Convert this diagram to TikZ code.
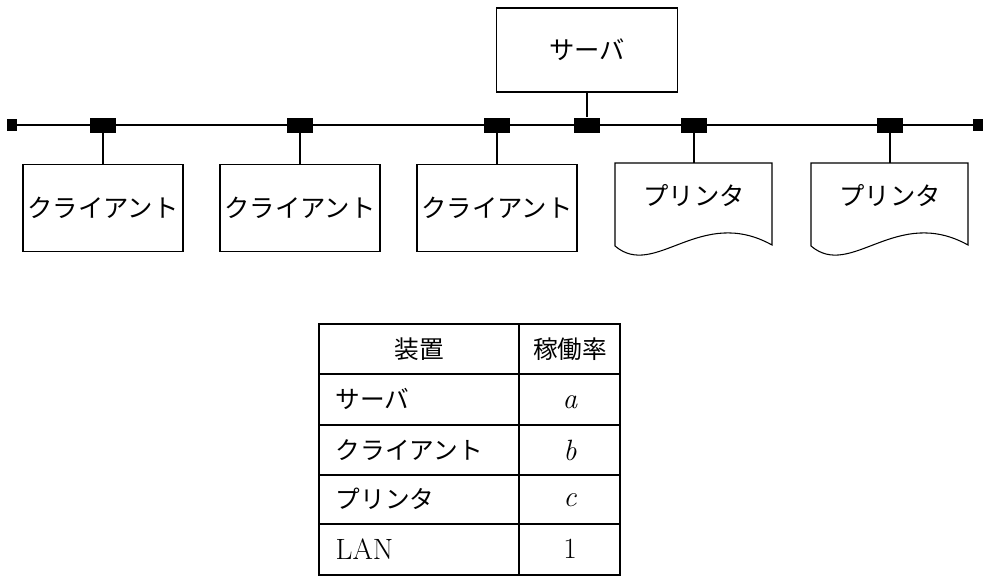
\documentclass[tikz,border=0pt]{standalone}
\usepackage{fontspec}
\newfontfamily\cjk{Noto Sans CJK JP}
\begin{document}
\begin{tikzpicture}[x=0.75pt,y=-0.75pt,
  box/.style={draw,line width=0.8pt,minimum width=160*0.75pt,minimum height=87*0.75pt,inner sep=0pt,font=\cjk\fontsize{19}{19}\selectfont},
  tap/.style={fill=black,minimum width=26*0.75pt,minimum height=15*0.75pt,inner sep=0pt},
  term/.style={fill=black,minimum width=10*0.75pt,minimum height=12*0.75pt,inner sep=0pt},
  ln/.style={line width=0.8pt},
  tt/.style={font=\cjk\fontsize{18.5}{18.5}\selectfont},
  lt/.style={font=\fontsize{22}{22}\selectfont}]
\useasboundingbox (0,0) rectangle (996,585);
% bus
\node[term] (e1) at (12,125) {};
\node[term] (e2) at (978,125) {};
\draw[line width=1.6pt] (e1) -- (e2);
\foreach \n/\x in {t1/103,t2/300,t3/497,ts/587,tp1/694,tp2/890}
  \node[tap] (\n) at (\x,125) {};
% server
\node[box,minimum width=181*0.75pt,minimum height=84*0.75pt] (srv) at (587,50) {サーバ};
\draw[ln] (srv.south) -- (ts);
% clients
\node[box] (c1) at (103,208) {クライアント};
\node[box] (c2) at (300,208) {クライアント};
\node[box] (c3) at (497,208) {クライアント};
\draw[ln] (t1) -- (c1.north);
\draw[ln] (t2) -- (c2.north);
\draw[ln] (t3) -- (c3.north);
% printers
\foreach \n/\x/\t in {p1/615/tp1,p2/811/tp2}{
  \draw[ln] (\x,163) -- (\x,246) .. controls (\x+40,280) and (\x+85,205) .. (\x+157,245) -- (\x+157,163) -- cycle;
  \coordinate (\n) at (\x+79,163);
  \node[font=\cjk\fontsize{19}{19}\selectfont] at (\x+79,196) {プリンタ};
  \draw[ln] (\t) -- (\n);
}
% table
\draw[line width=0.9pt] (319,324) rectangle (620,575);
\draw[ln] (519,324) -- (519,575);
\foreach \y in {374,425,475,524} \draw[ln] (319,\y) -- (620,\y);
\node[tt] at (419,349) {装置};
\node[tt] at (570,349) {稼働率};
\node[tt,anchor=west] at (331,399) {サーバ};
\node[tt,anchor=west] at (331,450) {クライアント};
\node[tt,anchor=west] at (331,499) {プリンタ};
\node[lt,anchor=west] at (331,549) {LAN};
\node[lt] at (570,402) {\itshape a};
\node[lt] at (570,450) {\itshape b};
\node[lt] at (570,500) {\itshape c};
\node[lt] at (570,549) {1};
\end{tikzpicture}
\end{document}
